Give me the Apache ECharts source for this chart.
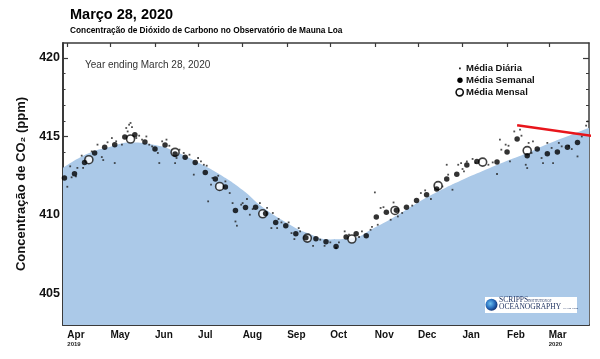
<!DOCTYPE html>
<html><head><meta charset="utf-8">
<script src="https://cdn.jsdelivr.net/npm/echarts@6/dist/echarts.min.js"></script>
<style>html,body{margin:0;padding:0;background:#fff}#c{width:600px;height:359px}</style>
</head><body><div id="c"></div>
<script>
// ---------- DATA ----------
const monthTicks = ['2019-04-01','2019-05-01','2019-06-01','2019-07-01','2019-08-01','2019-09-01',
  '2019-10-01','2019-11-01','2019-12-01','2020-01-01','2020-02-01','2020-03-01'];
const monthLabels = ['Apr','May','Jun','Jul','Aug','Sep','Oct','Nov','Dec','Jan','Feb','Mar'];
const yearLabels  = ['2019','','','','','','','','','','','2020'];
const xRange = ['2019-03-29','2020-03-29'];
const yTicks = [403,404,405,406,407,408,409,410,411,412,413,414,415,416,417,418,419,420];
const yLabelTicks = [405,410,415,420];

// smooth seasonal curve (blue area)
const curveDates = ['2019-03-29','2019-04-15','2019-05-01','2019-05-15','2019-06-01','2019-06-15',
  '2019-07-01','2019-07-15','2019-08-01','2019-08-15','2019-09-01','2019-09-15','2019-10-01',
  '2019-10-15','2019-11-01','2019-11-15','2019-12-01','2019-12-15','2020-01-01','2020-01-15',
  '2020-02-01','2020-02-15','2020-03-01','2020-03-15','2020-03-29'];
const curveValues = [413.0,413.9,414.35,414.62,414.45,414.05,413.35,412.65,411.6,410.5,409.5,408.85,
  408.45,408.5,409.2,409.9,410.8,411.5,412.25,412.8,413.45,413.95,414.55,415.05,415.55];

// monthly means
const monthlyDates = ['2019-04-16','2019-05-15','2019-06-15','2019-07-16','2019-08-15','2019-09-15',
  '2019-10-16','2019-11-15','2019-12-15','2020-01-15','2020-02-15'];
const monthlyValues = [413.52,414.84,413.99,411.82,410.08,408.53,408.47,410.29,411.87,413.37,414.1];

// weekly means
const weeklyDates = ['2019-03-30','2019-04-06','2019-04-13','2019-04-20','2019-04-27','2019-05-04',
  '2019-05-11','2019-05-18','2019-05-25','2019-06-01','2019-06-08','2019-06-15','2019-06-22',
  '2019-06-29','2019-07-06','2019-07-13','2019-07-20','2019-07-27','2019-08-03','2019-08-10',
  '2019-08-17','2019-08-24','2019-08-31','2019-09-07','2019-09-14','2019-09-21','2019-09-28',
  '2019-10-05','2019-10-12','2019-10-19','2019-10-26','2019-11-02','2019-11-09','2019-11-16',
  '2019-11-23','2019-11-30','2019-12-07','2019-12-14','2019-12-21','2019-12-28','2020-01-04',
  '2020-01-11','2020-01-25','2020-02-01','2020-02-08','2020-02-15','2020-02-22','2020-02-29',
  '2020-03-07','2020-03-14','2020-03-21'];
const weeklyValues = [412.36,412.63,413.35,413.95,414.31,414.48,414.97,415.11,414.65,414.2,414.46,
  413.89,413.67,413.35,412.71,412.29,411.78,410.29,410.48,410.5,410.1,409.53,409.32,408.81,408.55,
  408.49,408.3,408.0,408.6,408.81,408.68,409.87,410.17,410.3,410.5,410.93,411.29,411.66,412.29,
  412.59,413.18,413.41,413.37,414.01,414.84,413.78,414.2,413.9,414.01,414.31,414.62];

// daily means: day number counted from 2019-04-01
const dailyDays = [0,2,3,6,7,10,11,13,17,21,24,25,28,31,33,34,38,41,42,43,44,45,48,50,52,55,57,59,
  63,64,66,69,71,73,75,76,78,81,85,88,91,93,95,97,98,100,101,105,106,110,113,115,117,118,121,122,
  125,127,129,134,139,142,143,146,147,149,154,156,158,161,162,168,171,176,179,183,187,189,193,196,
  203,205,211,212,214,216,218,220,225,227,230,233,240,246,249,253,256,261,264,265,268,272,274,275,
  276,278,282,284,287,293,296,299,301,302,305,307,308,311,315,316,319,320,321,323,324,330,331,334,
  337,338,342,344,349,351,355,358,361,362];
const dailyValues = [411.8,413.1,412.4,412.46,413.0,413.78,413.0,413.57,414.05,414.48,413.69,413.5,
  414.63,414.9,413.31,414.69,414.48,415.54,415.32,415.75,415.86,415.6,414.9,415.05,414.8,415.0,
  414.48,414.37,413.95,413.31,414.69,414.8,414.41,414.16,413.31,413.63,414.16,413.95,413.84,412.57,
  413.63,413.41,413.2,413.14,410.87,411.93,412.36,412.5,411.61,412.14,411.4,410.76,409.59,409.32,
  410.66,410.76,411.02,410.02,410.38,410.76,410.45,409.17,410.13,409.17,409.75,409.53,409.53,408.85,
  408.47,409.17,408.96,408.75,408.04,408.43,408.04,408.26,407.9,408.26,408.96,408.75,408.6,408.96,
  409.06,409.24,411.44,409.38,410.45,410.5,409.7,410.8,409.91,410.13,410.6,411.4,411.57,411.02,
  411.93,411.82,413.2,412.57,411.61,413.2,413.31,412.93,412.78,413.41,413.57,413.31,413.52,413.2,
  413.35,412.61,414.8,414.16,414.48,414.41,413.41,415.32,415.43,415.05,413.2,412.99,414.59,413.95,
  414.69,413.63,413.31,414.59,414.27,413.31,414.59,414.37,414.41,414.2,413.73,415.0,415.69,415.96];

// red annotation line
const redDates = ['2020-02-08','2020-03-30 12:00'];
const redValues = [415.71, 415.05];

// ---------- CHART ----------
const F = "'Liberation Sans', Arial, Helvetica, sans-serif";
function ts(s) {
  const parts = s.split(' ');
  const [y, m, d] = parts[0].split('-').map(Number);
  let h = 0, mi = 0;
  if (parts[1]) { [h, mi] = parts[1].split(':').map(Number); }
  return new Date(y, m - 1, d, h, mi).getTime();
}
const zip = (a, b) => a.map((d, i) => [ts(d), b[i]]);
const dailyData = dailyDays.map((d, i) => [new Date(2019, 3, 1 + d).getTime(), dailyValues[i]]);
const tickTs = monthTicks.map(ts);
const axisColor = '#3a3a3a';

function monthFormatter(value) {
  let i = tickTs.findIndex(t => Math.abs(t - value) < 3600e3 * 12);
  if (i < 0) return '';
  return '{m|' + monthLabels[i] + '}' + (yearLabels[i] ? '\n{y|' + yearLabels[i] + '}' : '');
}
function yAxisBase(pos) {
  return {type: 'value', position: pos, min: 403, max: 420.95, splitLine: {show: false}};
}

const chart = echarts.init(document.getElementById('c'), null, {renderer: 'canvas'});
chart.setOption({
  animation: false,
  backgroundColor: '#fff',
  grid: {left: 63, right: 11, top: 43, bottom: 34},
  xAxis: [{
    type: 'value', position: 'bottom', min: ts(xRange[0]), max: ts(xRange[1]),
    splitLine: {show: false},
    axisLine: {lineStyle: {color: axisColor, width: 2}},
    axisTick: {inside: true, length: 5, customValues: tickTs, lineStyle: {color: axisColor, width: 1.2}},
    axisLabel: {
      customValues: tickTs, align: 'left', margin: 5, formatter: monthFormatter,
      rich: {
        m: {fontFamily: F, fontWeight: 'bold', fontSize: 10, color: '#111', lineHeight: 11, align: 'left'},
        y: {fontFamily: F, fontWeight: 'bold', fontSize: 6, color: '#222', lineHeight: 7, align: 'left'}
      }
    }
  }, {
    type: 'value', position: 'top', min: ts(xRange[0]), max: ts(xRange[1]),
    splitLine: {show: false},
    axisLine: {lineStyle: {color: axisColor, width: 1.5}},
    axisTick: {inside: true, length: 4, customValues: tickTs, lineStyle: {color: axisColor, width: 1.2}},
    axisLabel: {show: false}
  }],
  yAxis: [Object.assign(yAxisBase('left'), {
    name: 'Concentração de CO₂ (ppm)', nameLocation: 'middle', nameGap: 30,
    nameTextStyle: {fontFamily: F, fontWeight: 'bold', fontSize: 13, color: '#111'},
    axisLine: {show: true, lineStyle: {color: axisColor, width: 2}},
    axisTick: {inside: true, length: 2.5, customValues: yTicks, lineStyle: {color: axisColor, width: 1}},
    axisLabel: {customValues: yLabelTicks, margin: 3, fontFamily: F, fontWeight: 'bold', fontSize: 12.5, color: '#111'}
  }), Object.assign(yAxisBase('left'), {
    axisLine: {show: false},
    axisTick: {show: true, inside: true, length: 5, customValues: yLabelTicks, lineStyle: {color: axisColor, width: 1.2}},
    axisLabel: {show: false}
  }), Object.assign(yAxisBase('right'), {
    axisLine: {show: true, lineStyle: {color: axisColor, width: 1.5}},
    axisTick: {show: true, inside: true, length: 3, customValues: yTicks, lineStyle: {color: axisColor, width: 1}},
    axisLabel: {show: false}
  }), Object.assign(yAxisBase('right'), {
    axisLine: {show: false},
    axisTick: {show: true, inside: true, length: 6, customValues: yLabelTicks, lineStyle: {color: axisColor, width: 1.2}},
    axisLabel: {show: false}
  })],
  series: [{
    type: 'line', name: 'curve', data: zip(curveDates, curveValues), smooth: 0.5,
    showSymbol: false, symbol: 'none', lineStyle: {width: 0, color: '#abc9e8'},
    areaStyle: {color: '#abc9e8', opacity: 1, origin: 'start'}, z: 1, silent: true
  }, {
    type: 'scatter', name: 'Média Diária', data: dailyData, symbol: 'rect', symbolSize: 1.8,
    itemStyle: {color: '#222'}, z: 2, silent: true
  }, {
    type: 'scatter', name: 'Média Mensal', data: zip(monthlyDates, monthlyValues), symbol: 'circle', symbolSize: 8,
    itemStyle: {color: '#fff', borderColor: '#111', borderWidth: 1.6}, z: 3, silent: true
  }, {
    type: 'scatter', name: 'Média Semanal', data: zip(weeklyDates, weeklyValues), symbol: 'circle', symbolSize: 5.5,
    itemStyle: {color: '#000'}, z: 4, silent: true
  }, {
    type: 'line', name: 'trend', data: zip(redDates, redValues), symbol: 'none', clip: false,
    lineStyle: {color: '#e8151b', width: 2.5}, z: 6, silent: true
  }],
  graphic: [
    {type: 'text', x: 70, y: 15, style: {text: 'Março 28, 2020', font: 'bold 14.5px ' + F, fill: '#000', textVerticalAlign: 'middle'}},
    {type: 'text', x: 70, y: 30.5, style: {text: 'Concentração de Dióxido de Carbono no Observatório de Mauna Loa', font: 'bold 8.3px ' + F, fill: '#000', textVerticalAlign: 'middle'}},
    {type: 'text', x: 85, y: 65, style: {text: 'Year ending March 28, 2020', font: '10px ' + F, fill: '#333', textVerticalAlign: 'middle'}},
    // legend
    {type: 'rect', shape: {x: 459, y: 67.5, width: 1.8, height: 1.8}, style: {fill: '#222'}},
    {type: 'text', x: 466, y: 68.3, style: {text: 'Média Diária', font: 'bold 9.5px ' + F, fill: '#111', textVerticalAlign: 'middle'}},
    {type: 'circle', shape: {cx: 460, cy: 80.3, r: 2.7}, style: {fill: '#000'}},
    {type: 'text', x: 466, y: 80.6, style: {text: 'Média Semanal', font: 'bold 9.5px ' + F, fill: '#111', textVerticalAlign: 'middle'}},
    {type: 'circle', shape: {cx: 459.7, cy: 92.3, r: 3.6}, style: {fill: '#fff', stroke: '#111', lineWidth: 1.6}},
    {type: 'text', x: 466, y: 92.5, style: {text: 'Média Mensal', font: 'bold 9.5px ' + F, fill: '#111', textVerticalAlign: 'middle'}},
    // Scripps logo
    {type: 'rect', shape: {x: 485, y: 297, width: 92, height: 16}, style: {fill: '#fff'}, z: 10},
    {type: 'circle', shape: {cx: 491.5, cy: 304.8, r: 6}, z: 11,
      style: {fill: new echarts.graphic.RadialGradient(0.4, 0.4, 0.65, [
        {offset: 0, color: '#6cc0ee'}, {offset: 0.55, color: '#2a6fbf'}, {offset: 1, color: '#0c2a6a'}])}},
    {type: 'text', x: 499, y: 300.5, z: 11, style: {text: 'SCRIPPS', font: '7.5px "Liberation Serif", "Times New Roman", serif', fill: '#1c2f5e', textVerticalAlign: 'middle'}},
    {type: 'text', x: 528, y: 301, z: 11, style: {text: 'INSTITUTION OF', font: '3px "Liberation Serif", serif', fill: '#1c2f5e', textVerticalAlign: 'middle'}},
    {type: 'text', x: 499, y: 307.5, z: 11, style: {text: 'OCEANOGRAPHY', font: '7.5px "Liberation Serif", "Times New Roman", serif', fill: '#1c2f5e', textVerticalAlign: 'middle'}},
    {type: 'text', x: 563, y: 308.5, z: 11, style: {text: 'UC San Diego', font: '2.6px "Liberation Serif", serif', fill: '#1c2f5e', textVerticalAlign: 'middle'}}
  ]
});
</script></body></html>
